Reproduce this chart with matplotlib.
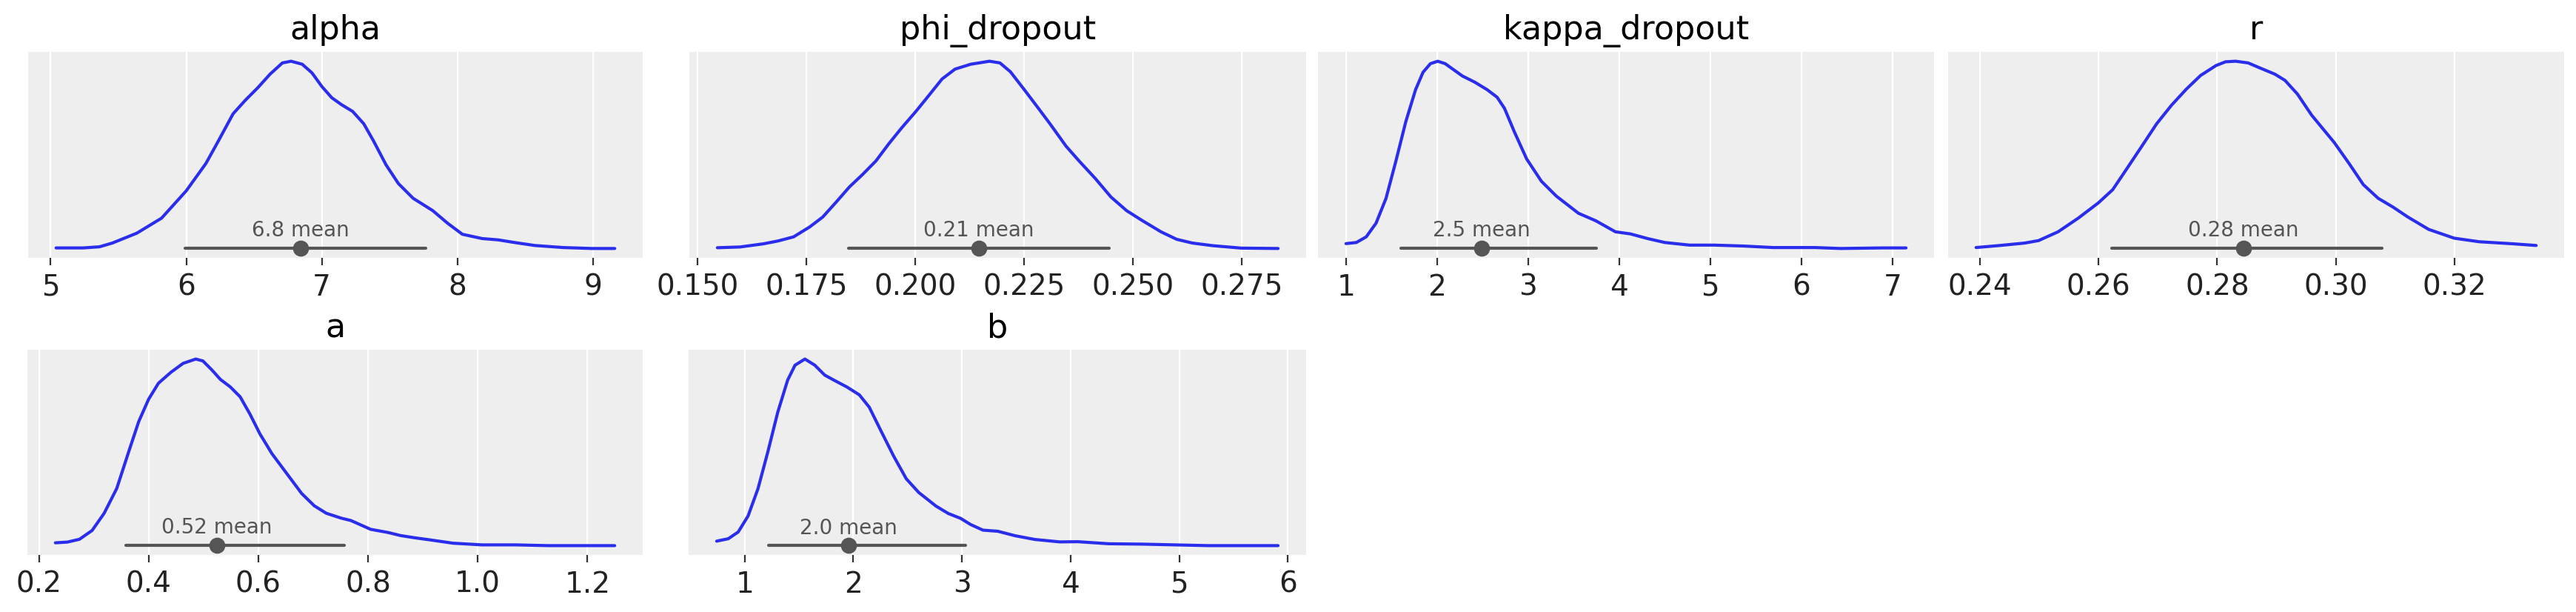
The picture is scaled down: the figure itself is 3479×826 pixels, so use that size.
import numpy as np
import matplotlib
matplotlib.use("Agg")
import matplotlib.pyplot as plt

# posterior densities (height relative to the peak)
alpha_x = [5.04, 5.24, 5.36, 5.455, 5.636, 5.818, 6.0, 6.145, 6.236, 6.345, 6.436, 6.527,
           6.618, 6.709, 6.773, 6.855, 6.927, 7.0, 7.073, 7.145, 7.227, 7.309, 7.382, 7.473,
           7.564, 7.673, 7.818, 7.927, 8.036, 8.182, 8.30, 8.42, 8.57, 8.78, 8.99, 9.16]
alpha_y = [0.003, 0.003, 0.009, 0.029, 0.082, 0.162, 0.308, 0.454, 0.573, 0.719, 0.792, 0.858,
           0.931, 0.991, 1.0, 0.984, 0.938, 0.865, 0.805, 0.768, 0.732, 0.666, 0.573, 0.447,
           0.347, 0.268, 0.202, 0.135, 0.076, 0.053, 0.046, 0.032, 0.016, 0.005, 0.0, 0.0]

phi_x = [0.1546, 0.1598, 0.1652, 0.1685, 0.1721, 0.1758, 0.1788, 0.1819, 0.1849, 0.1879,
         0.1910, 0.1940, 0.1970, 0.2002, 0.2032, 0.2062, 0.2092, 0.2128, 0.2171, 0.2195,
         0.2219, 0.2250, 0.2280, 0.2310, 0.2347, 0.2377, 0.2414, 0.2450, 0.2486, 0.2522,
         0.2565, 0.2601, 0.2637, 0.2684, 0.2749, 0.2834]
phi_y = [0.004, 0.008, 0.025, 0.04, 0.062, 0.115, 0.168, 0.248, 0.328, 0.394, 0.467, 0.56,
         0.646, 0.732, 0.818, 0.905, 0.958, 0.984, 1.0, 0.991, 0.944, 0.851, 0.759, 0.666,
         0.546, 0.467, 0.374, 0.275, 0.202, 0.149, 0.089, 0.049, 0.029, 0.015, 0.002, 0.0]

kappa_x = [1.0, 1.114, 1.222, 1.33, 1.439, 1.547, 1.656, 1.764, 1.846, 1.927, 2.008, 2.089,
           2.184, 2.279, 2.415, 2.55, 2.659, 2.74, 2.848, 2.984, 3.146, 3.309, 3.553, 3.743,
           3.959, 4.122, 4.312, 4.501, 4.772, 5.04, 5.37, 5.69, 6.15, 6.43, 6.89, 7.15]
kappa_y = [0.026, 0.032, 0.062, 0.135, 0.267, 0.465, 0.676, 0.848, 0.941, 0.987, 1.0, 0.987,
           0.954, 0.921, 0.888, 0.848, 0.808, 0.749, 0.624, 0.478, 0.359, 0.28, 0.188, 0.148,
           0.089, 0.078, 0.053, 0.032, 0.018, 0.018, 0.013, 0.005, 0.005, 0.0, 0.003, 0.003]

r_x = [0.2394, 0.2434, 0.2476, 0.2499, 0.2532, 0.2566, 0.2600, 0.2624, 0.2648, 0.2673,
       0.2698, 0.2723, 0.2748, 0.2772, 0.2798, 0.2814, 0.2831, 0.2852, 0.2872, 0.2897,
       0.2914, 0.2935, 0.2959, 0.2997, 0.3022, 0.3046, 0.3071, 0.3096, 0.3121, 0.3156,
       0.3199, 0.3241, 0.3298, 0.3337]
r_y = [0.005, 0.016, 0.029, 0.042, 0.089, 0.162, 0.244, 0.314, 0.427, 0.546, 0.666, 0.765,
       0.851, 0.924, 0.977, 0.997, 1.0, 0.991, 0.964, 0.931, 0.898, 0.825, 0.712, 0.566,
       0.454, 0.341, 0.268, 0.221, 0.168, 0.102, 0.055, 0.036, 0.025, 0.016]

a_x = [0.230, 0.252, 0.274, 0.297, 0.319, 0.342, 0.364, 0.382, 0.400, 0.418, 0.441, 0.463,
       0.486, 0.499, 0.515, 0.531, 0.549, 0.567, 0.585, 0.603, 0.625, 0.652, 0.679, 0.702,
       0.724, 0.751, 0.769, 0.805, 0.837, 0.859, 0.885, 0.910, 0.955, 1.008, 1.069, 1.129,
       1.25]
a_y = [0.015, 0.019, 0.034, 0.081, 0.173, 0.306, 0.504, 0.663, 0.782, 0.868, 0.927, 0.974,
       0.997, 0.987, 0.94, 0.888, 0.848, 0.795, 0.702, 0.597, 0.491, 0.385, 0.279, 0.213,
       0.173, 0.147, 0.134, 0.087, 0.07, 0.054, 0.042, 0.032, 0.013, 0.004, 0.004, 0.0, 0.0]

b_x = [0.743, 0.85, 0.941, 1.032, 1.123, 1.214, 1.305, 1.396, 1.464, 1.555, 1.646, 1.737,
       1.828, 1.942, 2.056, 2.147, 2.26, 2.374, 2.488, 2.602, 2.761, 2.875, 2.988, 3.08,
       3.193, 3.33, 3.489, 3.671, 3.899, 4.068, 4.351, 4.655, 4.960, 5.265, 5.570, 5.909]
b_y = [0.024, 0.037, 0.073, 0.159, 0.305, 0.503, 0.715, 0.887, 0.967, 1.0, 0.967, 0.914,
       0.885, 0.85, 0.808, 0.742, 0.609, 0.477, 0.358, 0.285, 0.212, 0.172, 0.146, 0.113,
       0.083, 0.077, 0.053, 0.033, 0.02, 0.021, 0.01, 0.008, 0.004, 0.0, 0.0, 0.0]

names = ["alpha", "phi_dropout", "kappa_dropout", "r", "a", "b"]
means = [6.842, 0.2147, 2.49, 0.2844, 0.524, 1.957]
mean_labels = ["6.8", "0.21", "2.5", "0.28", "0.52", "2.0"]
hdi_low = [5.99, 0.1848, 1.60, 0.2622, 0.359, 1.218]
hdi_high = [7.767, 0.2446, 3.75, 0.3078, 0.757, 3.032]
ticks = [
    [5, 6, 7, 8, 9],
    [0.150, 0.175, 0.200, 0.225, 0.250, 0.275],
    [1, 2, 3, 4, 5, 6, 7],
    [0.24, 0.26, 0.28, 0.30, 0.32],
    [0.2, 0.4, 0.6, 0.8, 1.0, 1.2],
    [1, 2, 3, 4, 5, 6],
]
tick_fmt = ["{:.0f}", "{:.3f}", "{:.0f}", "{:.2f}", "{:.1f}", "{:.0f}"]
xs = [alpha_x, phi_x, kappa_x, r_x, a_x, b_x]
ys = [alpha_y, phi_y, kappa_y, r_y, a_y, b_y]

W, H = 3479, 826
# axes boxes in pixels: left, right, top, bottom
boxes = [
    (38, 868, 70, 348), (931, 1764, 70, 348), (1780, 2612, 70, 348), (2631, 3463, 70, 348),
    (37, 868, 472, 749), (930, 1764, 472, 749),
]

fig = plt.figure(figsize=(W / 200, H / 200), dpi=200)
blue = "#2a2eec"
grey = "#555555"

for i, name in enumerate(names):
    l, r, t, b = boxes[i]
    ax = fig.add_axes([l / W, 1 - b / H, (r - l) / W, (b - t) / H])
    ax.set_facecolor("#eeeeee")
    for s in ax.spines.values():
        s.set_visible(False)
    ax.plot(xs[i], ys[i], color=blue, lw=1.5, zorder=3,
            solid_joinstyle="round", solid_capstyle="round")
    ax.plot([hdi_low[i], hdi_high[i]], [0, 0], color=grey, lw=1.5,
            solid_capstyle="round", zorder=4)
    ax.plot([means[i]], [0], "o", color=grey, ms=6.8, zorder=5)
    ax.text(means[i], 0.063, mean_labels[i] + " mean", ha="center", va="baseline",
            fontsize=10, color=grey, zorder=6)
    ax.set_xticks(ticks[i])
    ax.set_xticklabels([tick_fmt[i].format(v) for v in ticks[i]])
    ax.set_yticks([])
    ax.tick_params(axis="x", labelsize=14, length=3.5, width=0.8, color="#333333",
                   labelcolor="#222222", pad=4)
    ax.grid(axis="x", color="white", lw=0.8)
    ax.set_axisbelow(True)
    ax.margins(x=0.05, y=0.05)
    ax.set_title(name, fontsize=16, pad=6)

fig.savefig("out.png", dpi=200)
